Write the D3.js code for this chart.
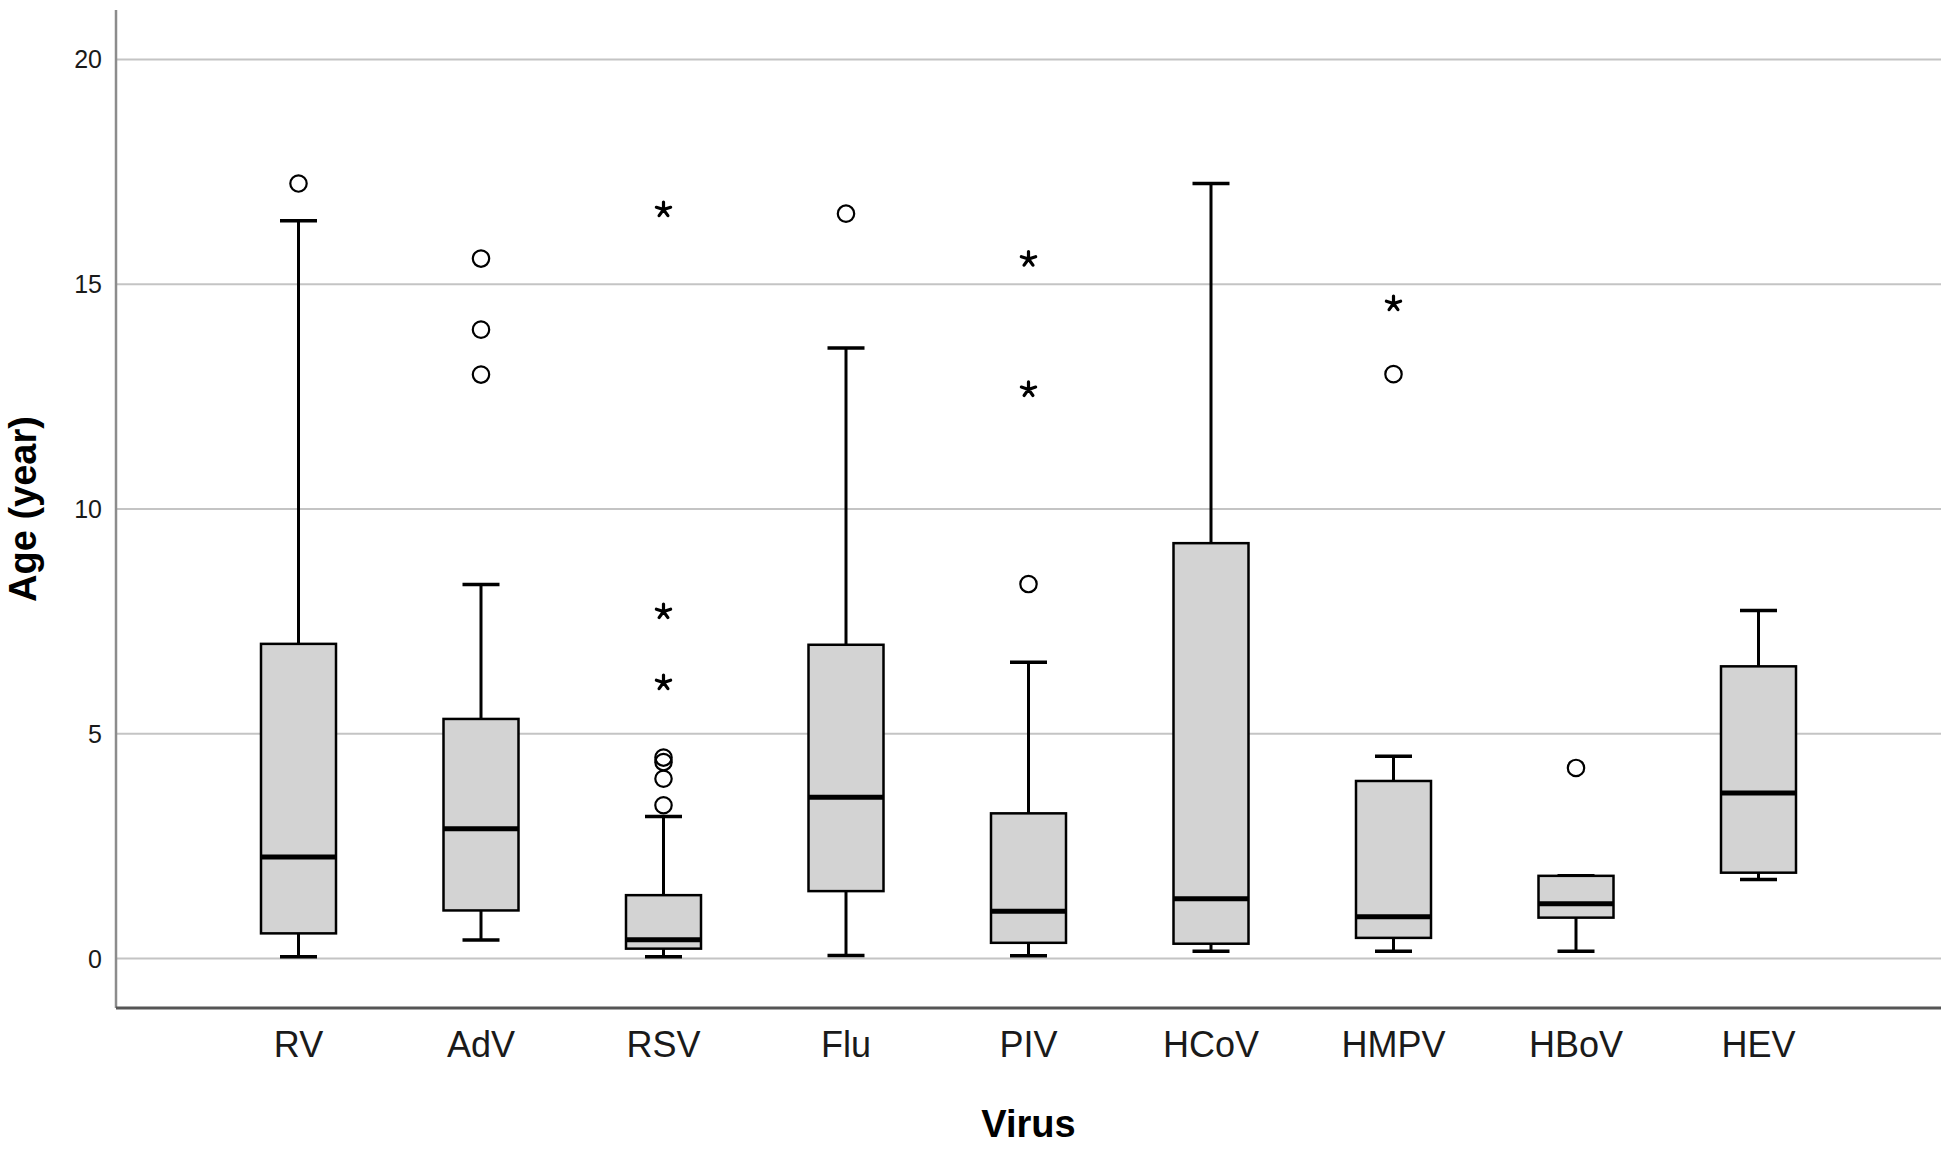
<!DOCTYPE html>
<html>
<head>
<meta charset="utf-8">
<script src="https://cdn.jsdelivr.net/npm/d3@7"></script>
<style>
  body { margin: 0; background: #fff; }
  text { font-family: "Liberation Sans", Arial, sans-serif; }
</style>
</head>
<body>
<div id="chart"></div>
<script>
// Box plot data (age in years)
const viruses   = ["RV", "AdV", "RSV", "Flu", "PIV", "HCoV", "HMPV", "HBoV", "HEV"];
const whiskLow  = [0.04, 0.41, 0.04, 0.07, 0.06, 0.16, 0.16, 0.16, 1.76];
const q1        = [0.56, 1.07, 0.22, 1.50, 0.35, 0.33, 0.46, 0.91, 1.91];
const medians   = [2.26, 2.89, 0.42, 3.59, 1.05, 1.33, 0.93, 1.22, 3.68];
const q3        = [7.00, 5.33, 1.41, 6.98, 3.23, 9.24, 3.95, 1.84, 6.50];
const whiskHigh = [16.41, 8.32, 3.16, 13.58, 6.59, 17.24, 4.50, 1.84, 7.74];

// outliers (circles) and extreme values (stars)
const outliers = [
  ["RV", 17.24], ["AdV", 15.57], ["AdV", 13.99], ["AdV", 12.99],
  ["RSV", 4.47], ["RSV", 4.37], ["RSV", 4.00], ["RSV", 3.41],
  ["Flu", 16.57], ["PIV", 8.33], ["HMPV", 13.00], ["HBoV", 4.24]
];
const extremes = [
  ["RSV", 16.66], ["RSV", 7.72], ["RSV", 6.14],
  ["PIV", 15.56], ["PIV", 12.66], ["HMPV", 14.57]
];
const yTicks = [0, 5, 10, 15, 20];

const width = 1957, height = 1149;
const plotLeft = 116, plotRight = 1941, plotTop = 10, plotBottom = 1008;

const svg = d3.select("#chart").append("svg")
  .attr("width", width)
  .attr("height", height);

const x = d3.scalePoint()
  .domain(viruses)
  .range([plotLeft, plotRight])
  .padding(1);

const y = d3.scaleLinear()
  .domain([-1.1, 21.1])
  .range([plotBottom, plotTop]);

// gridlines
svg.append("g")
  .selectAll("line")
  .data(yTicks)
  .enter().append("line")
  .attr("x1", plotLeft).attr("x2", plotRight)
  .attr("y1", d => y(d)).attr("y2", d => y(d))
  .attr("stroke", "#c4c4c4")
  .attr("stroke-width", 2);

// axes lines
svg.append("line")
  .attr("x1", plotLeft).attr("x2", plotLeft)
  .attr("y1", plotTop).attr("y2", plotBottom)
  .attr("stroke", "#8c8c8c")
  .attr("stroke-width", 2.5);
svg.append("line")
  .attr("x1", plotLeft).attr("x2", plotRight)
  .attr("y1", plotBottom).attr("y2", plotBottom)
  .attr("stroke", "#555")
  .attr("stroke-width", 3);

// y tick labels
svg.append("g")
  .selectAll("text")
  .data(yTicks)
  .enter().append("text")
  .attr("x", plotLeft - 14)
  .attr("y", d => y(d))
  .attr("text-anchor", "end")
  .attr("dominant-baseline", "central")
  .style("font-size", "25px")
  .style("fill", "#1a1a1a")
  .text(d => d);

// x tick labels
svg.append("g")
  .selectAll("text")
  .data(viruses)
  .enter().append("text")
  .attr("x", d => x(d))
  .attr("y", 1057)
  .attr("text-anchor", "middle")
  .style("font-size", "36px")
  .style("fill", "#1a1a1a")
  .text(d => d);

// axis titles
svg.append("text")
  .attr("x", (plotLeft + plotRight) / 2)
  .attr("y", 1137)
  .attr("text-anchor", "middle")
  .style("font-size", "38px")
  .style("font-weight", "bold")
  .text("Virus");

svg.append("text")
  .attr("transform", `translate(36,${(plotTop + plotBottom) / 2}) rotate(-90)`)
  .attr("text-anchor", "middle")
  .style("font-size", "38px")
  .style("font-weight", "bold")
  .text("Age (year)");

// boxes
const boxW = 75, capW = 37;
const boxes = viruses.map((v, i) => ({
  v: v, lo: whiskLow[i], q1: q1[i], med: medians[i], q3: q3[i], hi: whiskHigh[i]
}));

const g = svg.append("g")
  .selectAll("g")
  .data(boxes)
  .enter().append("g")
  .attr("transform", d => `translate(${x(d.v)},0)`);

// whisker stems
g.append("line")
  .attr("x1", 0).attr("x2", 0)
  .attr("y1", d => y(d.hi)).attr("y2", d => y(d.q3))
  .attr("stroke", "#000").attr("stroke-width", 3);
g.append("line")
  .attr("x1", 0).attr("x2", 0)
  .attr("y1", d => y(d.q1)).attr("y2", d => y(d.lo))
  .attr("stroke", "#000").attr("stroke-width", 3);

// caps
g.append("line")
  .attr("x1", -capW / 2).attr("x2", capW / 2)
  .attr("y1", d => y(d.hi)).attr("y2", d => y(d.hi))
  .attr("stroke", "#000").attr("stroke-width", 3.5);
g.append("line")
  .attr("x1", -capW / 2).attr("x2", capW / 2)
  .attr("y1", d => y(d.lo)).attr("y2", d => y(d.lo))
  .attr("stroke", "#000").attr("stroke-width", 3.5);

g.append("rect")
  .attr("x", -boxW / 2)
  .attr("width", boxW)
  .attr("y", d => y(d.q3))
  .attr("height", d => y(d.q1) - y(d.q3))
  .attr("fill", "#d3d3d3")
  .attr("stroke", "#000")
  .attr("stroke-width", 2.5);

g.append("line")
  .attr("x1", -boxW / 2).attr("x2", boxW / 2)
  .attr("y1", d => y(d.med)).attr("y2", d => y(d.med))
  .attr("stroke", "#000").attr("stroke-width", 5);

// outlier circles
svg.append("g")
  .selectAll("circle")
  .data(outliers)
  .enter().append("circle")
  .attr("cx", d => x(d[0]))
  .attr("cy", d => y(d[1]))
  .attr("r", 8.2)
  .attr("fill", "none")
  .attr("stroke", "#000")
  .attr("stroke-width", 2.2);

// extreme stars (5-arm asterisk)
const starPath = d3.range(5).map(k => {
  const a = -Math.PI / 2 + k * 2 * Math.PI / 5;
  return `M0,0L${(7.5 * Math.cos(a)).toFixed(2)},${(7.5 * Math.sin(a)).toFixed(2)}`;
}).join("");

svg.append("g")
  .selectAll("path")
  .data(extremes)
  .enter().append("path")
  .attr("transform", d => `translate(${x(d[0])},${y(d[1])})`)
  .attr("d", starPath)
  .attr("stroke", "#000")
  .attr("stroke-width", 3.2)
  .attr("stroke-linecap", "round")
  .attr("fill", "none");
</script>
</body>
</html>
